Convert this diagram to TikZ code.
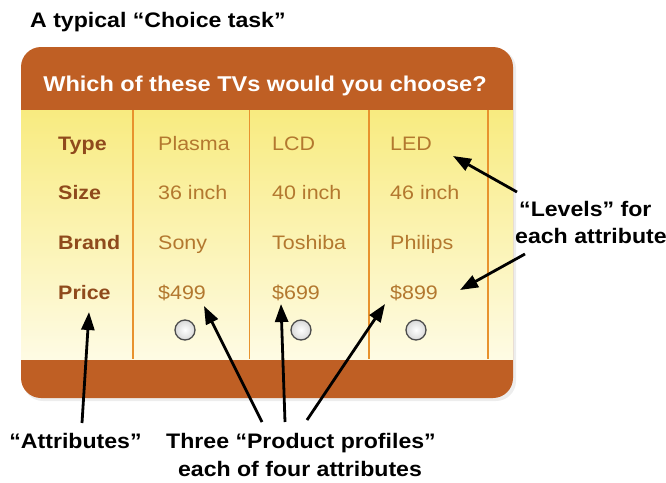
\documentclass[tikz,border=0pt]{standalone}
\usepackage{fontspec}
\setmainfont{Liberation Sans}[FakeStretch=1.1]
\usetikzlibrary{arrows.meta}
\definecolor{hdr}{HTML}{BF5F24}
\definecolor{ylwtop}{HTML}{F8EB80}
\definecolor{ylwmid}{HTML}{FCF5C0}
\definecolor{ylwbot}{HTML}{FEFBE4}
\definecolor{colline}{HTML}{E8922E}
\definecolor{attrc}{HTML}{8F4A1C}
\definecolor{valc}{HTML}{B3782F}
\tikzset{
  bigtext/.style={inner sep=0pt, font=\fontsize{21}{25}\selectfont\bfseries, text=black},
  hdrtext/.style={inner sep=0pt, font=\fontsize{21.4}{25}\selectfont\bfseries, text=white},
  attr/.style={inner sep=0pt, anchor=base west, font=\fontsize{19.5}{23}\selectfont\bfseries, text=attrc},
  val/.style={inner sep=0pt, anchor=base west, font=\fontsize{19.5}{23}\selectfont, text=valc},
  radio/.style={circle, minimum size=20pt, inner sep=0pt, draw=gray!60!black, line width=1.3pt, shading=radial, inner color=white, outer color=gray!30},
  pointer/.style={draw=black, line width=2.8pt, -{Triangle[length=18pt,width=13pt]}},
  colsep/.style={draw=colline, line width=1.6pt}
}
\begin{document}
\begin{tikzpicture}[x=1pt,y=-1pt]
\useasboundingbox (0,0) rectangle (666,482);
% title
\node[bigtext, anchor=base west] (title) at (30,27.5) {A typical “Choice task”};
% box
\fill[black!7, rounded corners=20pt] (23,49) rectangle (516,401);
\fill[hdr, rounded corners=20pt] (21,47) rectangle (513,398);
\shade[top color=ylwtop, middle color=ylwmid, bottom color=ylwbot] (21,110) rectangle (513,359);
\foreach \xx in {133,249.5,369,488} \draw[colsep] (\xx,110) -- (\xx,359);
\node[hdrtext, anchor=base] (q) at (265,91) {Which of these TVs would you choose?};
% attributes
\node[attr] (type)  at (58,150)   {Type};
\node[attr] (size)  at (58,199.5) {Size};
\node[attr] (brand) at (58,249)   {Brand};
\node[attr] (price) at (58,299)   {Price};
% values
\node[val] (v11) at (158,150)   {Plasma};
\node[val] (v12) at (158,199.5) {36 inch};
\node[val] (v13) at (158,249)   {Sony};
\node[val] (v14) at (158,299)   {\$499};
\node[val] (v21) at (272,150)   {LCD};
\node[val] (v22) at (272,199.5) {40 inch};
\node[val] (v23) at (272,249)   {Toshiba};
\node[val] (v24) at (272,299)   {\$699};
\node[val] (v31) at (390,150)   {LED};
\node[val] (v32) at (390,199.5) {46 inch};
\node[val] (v33) at (390,249)   {Philips};
\node[val] (v34) at (390,299)   {\$899};
% radio buttons
\node[radio] (r1) at (185,330) {};
\node[radio] (r2) at (301,330) {};
\node[radio] (r3) at (416,330) {};
% annotation labels
\node[bigtext, anchor=base] (attrl) at (75.5,448) {“Attributes”};
\node[bigtext, anchor=base] (prof1) at (301,448) {Three “Product profiles”};
\node[bigtext, anchor=base] (prof2) at (300,476) {each of four attributes};
\node[bigtext, anchor=base west] (lev1) at (519,216) {“Levels” for};
\node[bigtext, anchor=base west] (lev2) at (515,243) {each attribute};
% arrow ends
\coordinate (a1s) at (82,423);  \coordinate (a1e) at (89,312);
\coordinate (a2s) at (262,422); \coordinate (a2e) at (204,306);
\coordinate (a3s) at (285,422); \coordinate (a3e) at (281,304);
\coordinate (a4s) at (307,420); \coordinate (a4e) at (385,304);
\coordinate (a5s) at (517,192); \coordinate (a5e) at (453,156);
\coordinate (a6s) at (525,254); \coordinate (a6e) at (460,290);
\draw[pointer] (a1s) -- (a1e);
\draw[pointer] (a2s) -- (a2e);
\draw[pointer] (a3s) -- (a3e);
\draw[pointer] (a4s) -- (a4e);
\draw[pointer] (a5s) -- (a5e);
\draw[pointer] (a6s) -- (a6e);
\end{tikzpicture}
\end{document}
